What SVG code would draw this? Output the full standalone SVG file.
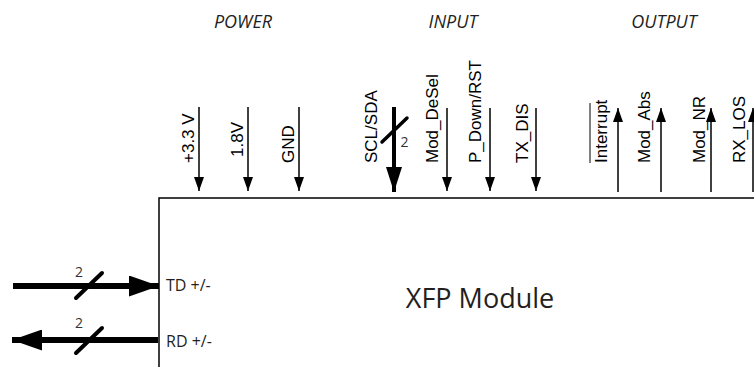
<svg xmlns="http://www.w3.org/2000/svg" width="754" height="367" viewBox="0 0 754 367">
<style>
.sig{font-family:"Liberation Sans",Arial,sans-serif;font-size:17px;fill:#000}
.hdr{font-family:"Open Sans",sans-serif;font-style:italic;font-size:18px;fill:#231f20;text-anchor:middle}
.lbl{font-family:"Open Sans",sans-serif;font-size:16px;fill:#231f20}
.num{font-family:"Open Sans",sans-serif;font-size:14px;fill:#333;text-anchor:middle}
.thin{stroke:#000;stroke-width:1.5;fill:none}
.bus{stroke:#000;fill:none}
.slash{stroke:#000;stroke-linecap:round;fill:none}
</style>
<defs>
<marker id="ah" markerUnits="userSpaceOnUse" markerWidth="14" markerHeight="10" refX="14" refY="5" orient="auto" viewBox="0 0 14 10"><path d="M0,0 L14,5 L0,10 z" fill="#000"/></marker>
<marker id="ahm" markerUnits="userSpaceOnUse" markerWidth="25" markerHeight="16" refX="25" refY="8" orient="auto" viewBox="0 0 25 16"><path d="M0,0 L25,8 L0,16 z" fill="#000"/></marker>
<marker id="ahb" markerUnits="userSpaceOnUse" markerWidth="30" markerHeight="21" refX="30" refY="10.5" orient="auto" viewBox="0 0 30 21"><path d="M0,0 L30,10.5 L0,21 z" fill="#000"/></marker>
</defs>

<g id="headers">
<text class="hdr" x="243" y="28">POWER</text>
<text class="hdr" x="453" y="28">INPUT</text>
<text class="hdr" x="664" y="28">OUTPUT</text>
</g>

<g id="xfp-module">
<path d="M754,198 H159 V367" stroke="#000" stroke-width="1.5" fill="none"/>
<text x="480" y="308" font-family="Open Sans, sans-serif" font-size="27" fill="#231f20" text-anchor="middle">XFP Module</text>
<text class="lbl" x="166" y="291">TD +/-</text>
<text class="lbl" x="166" y="347">RD +/-</text>
</g>

<g id="signal-labels">
<text class="sig" transform="translate(194,163) rotate(-90)">+3.3 V</text>
<text class="sig" transform="translate(243,157) rotate(-90)">1.8V</text>
<text class="sig" transform="translate(294,163) rotate(-90)">GND</text>
<text class="sig" transform="translate(377,163) rotate(-90)">SCL/SDA</text>
<text class="sig" transform="translate(438,163) rotate(-90)">Mod_DeSel</text>
<text class="sig" transform="translate(481,163) rotate(-90)">P_Down/RST</text>
<text class="sig" transform="translate(528,163) rotate(-90)">TX_DIS</text>
<text class="sig" transform="translate(607,163) rotate(-90)">Interrupt</text>
<line x1="590" y1="103" x2="590" y2="163" stroke="#000" stroke-width="1"/>
<text class="sig" transform="translate(650,163) rotate(-90)">Mod_Abs</text>
<text class="sig" transform="translate(705,163) rotate(-90)">Mod_NR</text>
<text class="sig" transform="translate(745,163) rotate(-90)">RX_LOS</text>
<text class="num" x="404.5" y="147">2</text>
<text class="num" x="79" y="277">2</text>
<text class="num" x="79" y="328">2</text>
</g>

<g id="connectors">
<line class="thin" x1="199" y1="107" x2="199" y2="191" marker-end="url(#ah)"/>
<line class="thin" x1="248" y1="107" x2="248" y2="191" marker-end="url(#ah)"/>
<line class="thin" x1="299" y1="107" x2="299" y2="191" marker-end="url(#ah)"/>
<line class="bus" stroke-width="4" x1="394" y1="107" x2="394" y2="192" marker-end="url(#ahm)"/>
<line class="slash" stroke-width="3.5" x1="382" y1="142" x2="407" y2="118"/>
<line class="thin" x1="447" y1="108" x2="447" y2="191" marker-end="url(#ah)"/>
<line class="thin" x1="490" y1="108" x2="490" y2="191" marker-end="url(#ah)"/>
<line class="thin" x1="536" y1="108" x2="536" y2="191" marker-end="url(#ah)"/>
<line class="thin" x1="618" y1="192" x2="618" y2="108" marker-end="url(#ah)"/>
<line class="thin" x1="661" y1="192" x2="661" y2="108" marker-end="url(#ah)"/>
<line class="thin" x1="711" y1="192" x2="711" y2="108" marker-end="url(#ah)"/>
<line class="thin" x1="753" y1="192" x2="753" y2="108" marker-end="url(#ah)"/>
<line class="bus" stroke-width="6" x1="13" y1="286" x2="159" y2="286" marker-end="url(#ahb)"/>
<line class="slash" stroke-width="4" x1="76" y1="298" x2="102" y2="273"/>
<line class="bus" stroke-width="6" x1="158" y1="340" x2="12" y2="340" marker-end="url(#ahb)"/>
<line class="slash" stroke-width="4" x1="76" y1="353" x2="102" y2="328"/>
</g>
</svg>
